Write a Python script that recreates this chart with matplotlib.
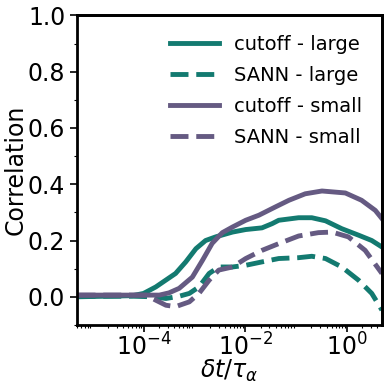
import numpy as np
import matplotlib
matplotlib.use("Agg")
matplotlib.rcdefaults()
import matplotlib.pyplot as plt
from matplotlib.lines import Line2D

# log10(dt/tau_alpha) and correlation values
x_cut_large = [-5.3, -4.22, -4.0, -3.76, -3.37, -3.17, -2.97, -2.78, -2.58, -2.25, -1.99, -1.67, -1.47, -1.34, -0.95, -0.69, -0.42, -0.10, 0.23, 0.49, 0.69]
y_cut_large = [0.0, 0.004, 0.012, 0.035, 0.083, 0.124, 0.171, 0.20, 0.213, 0.23, 0.239, 0.245, 0.26, 0.272, 0.281, 0.281, 0.27, 0.242, 0.219, 0.20, 0.177]

x_sann_large = [-5.3, -4.2, -3.82, -3.56, -3.3, -3.1, -2.91, -2.71, -2.52, -2.25, -1.99, -1.67, -1.34, -0.95, -0.69, -0.42, -0.10, 0.23, 0.49, 0.69]
y_sann_large = [0.002, 0.002, 0.0, -0.006, 0.002, 0.012, 0.035, 0.083, 0.106, 0.106, 0.112, 0.124, 0.136, 0.139, 0.144, 0.136, 0.106, 0.059, 0.012, -0.047]

x_cut_small = [-5.3, -4.2, -3.69, -3.5, -3.3, -3.04, -2.84, -2.65, -2.45, -2.25, -1.99, -1.73, -1.41, -1.14, -0.82, -0.49, -0.03, 0.29, 0.56, 0.69]
y_cut_small = [0.006, 0.006, 0.006, 0.014, 0.03, 0.07, 0.13, 0.19, 0.228, 0.248, 0.272, 0.29, 0.319, 0.343, 0.366, 0.376, 0.369, 0.343, 0.307, 0.278]

x_sann_small = [-5.3, -3.95, -3.76, -3.56, -3.37, -3.1, -2.91, -2.71, -2.52, -2.25, -1.99, -1.67, -1.34, -0.95, -0.56, -0.29, 0.03, 0.36, 0.69]
y_sann_small = [0.006, 0.006, -0.012, -0.03, -0.035, -0.018, 0.012, 0.059, 0.095, 0.106, 0.136, 0.165, 0.189, 0.216, 0.228, 0.23, 0.213, 0.165, 0.083]

teal = "#137a70"
purple = "#655a82"

fig = plt.figure(figsize=(3.85, 3.85), dpi=100)
ax = fig.add_axes([0.2, 0.156, 0.792, 0.804])

lw = 3.5
ax.plot(10 ** np.array(x_cut_large), y_cut_large, color=teal, lw=lw, ls="-", label="cutoff - large")
ax.plot(10 ** np.array(x_sann_large), y_sann_large, color=teal, lw=lw, ls="--", label="SANN - large")
ax.plot(10 ** np.array(x_cut_small), y_cut_small, color=purple, lw=lw, ls="-", label="cutoff - small")
ax.plot(10 ** np.array(x_sann_small), y_sann_small, color=purple, lw=lw, ls="--", label="SANN - small")

ax.set_xscale("log")
ax.set_xlim(10 ** -5.31, 10 ** 0.69)
ax.set_ylim(-0.1, 1.0)
ax.set_yticks([0.0, 0.2, 0.4, 0.6, 0.8, 1.0])
ax.set_xticks([1e-4, 1e-2, 1e0])
ax.xaxis.set_minor_locator(matplotlib.ticker.LogLocator(base=10, subs=np.arange(2, 10), numticks=20))
ax.xaxis.set_minor_formatter(matplotlib.ticker.NullFormatter())
ax.yaxis.set_minor_locator(matplotlib.ticker.MultipleLocator(0.1))
for name in ["left", "bottom", "top", "right"]:
    s = ax.spines[name]
    s.set_visible(True)
    s.set_linewidth(2.0)
    s.set_edgecolor("black")
# explicit top and right edges
ax.add_line(Line2D([0, 1], [1, 1], transform=ax.transAxes, color="black", lw=2.0, clip_on=False, zorder=10))
ax.add_line(Line2D([1, 1], [0, 1], transform=ax.transAxes, color="black", lw=2.0, clip_on=False, zorder=10))
ax.tick_params(which="major", labelsize=17, length=5, width=1.2, direction="out", colors="black")
ax.tick_params(axis="x", which="major", pad=1)
ax.tick_params(which="minor", length=2.5, width=0.8, direction="out")
ax.set_ylabel("Correlation", fontsize=17, labelpad=0)
ax.set_xlabel(r"$\delta t/\tau_\alpha$", fontsize=17, labelpad=-2)

ax.legend(loc="upper right", frameon=False, fontsize=14, handlelength=2.5,
          labelspacing=0.62, handletextpad=0.8, borderaxespad=0.6)

fig.savefig("out.png", dpi=100, facecolor="white")
